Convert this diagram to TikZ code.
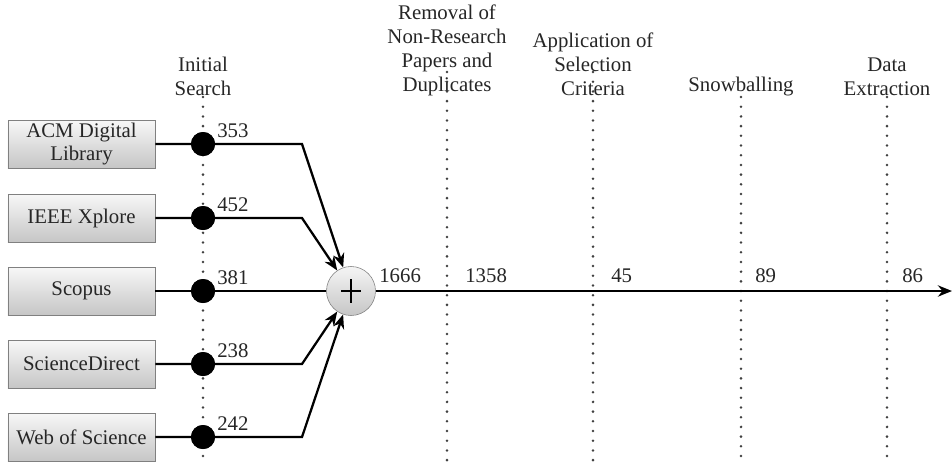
\documentclass[tikz,border=0pt]{standalone}
\usepackage{fontspec}
\setmainfont{Liberation Serif}
\usetikzlibrary{arrows.meta,positioning}
\begin{document}
\begin{tikzpicture}[x=0.025cm, y=-0.025cm,
        every node/.style={font=\rmfamily\fontsize{14.8}{17}\selectfont, text=black!85},
        source/.style={draw=gray, top color=gray!6, bottom color=gray!45, minimum width=3.675cm, minimum height=1.2cm, inner sep=0pt, align=center},
        hit/.style={circle, fill=black, minimum size=0.6cm, inner sep=0pt},
        sumnode/.style={circle, draw=gray, top color=gray!8, bottom color=gray!45, minimum size=1.225cm, inner sep=0pt},
        num/.style={anchor=base west, inner sep=0pt},
        stage/.style={anchor=south, align=center, inner sep=0pt},
        guide/.style={line width=2pt, dash pattern=on 0pt off 6.9pt, line cap=round, black!75},
        flow/.style={line width=1.6pt, -{Stealth[length=10pt,width=8pt]}}]
        \useasboundingbox (0,0) rectangle (952,462);

        % stage headers and their guide lines
        \node[stage] (initial) at (203,96) {Initial\\Search};
        \node[stage] (removal) at (447,96) {Removal of\\Non-Research\\Papers and\\Duplicates};
        \node[stage] (selection) at (593,96) {Application of\\Selection\\Criteria};
        \node[stage] (snowball) at (741,96) {Snowballing};
        \node[stage] (extract) at (887,96) {Data\\Extraction};

        \draw[guide] (203,97) -- (203,462);
        \draw[guide] (447,72) -- (447,462);
        \draw[guide] (593,72) -- (593,462);
        \draw[guide] (741,97) -- (741,462);
        \draw[guide] (887,97) -- (887,462);

        % databases
        \node[source] (acm) at (81.5,144) {ACM Digital\\Library};
        \node[source] (ieee) at (81.5,218) {IEEE Xplore};
        \node[source] (scopus) at (81.5,291) {Scopus};
        \node[source] (sd) at (81.5,364) {ScienceDirect};
        \node[source] (wos) at (81.5,437) {Web of Science};

        \node[sumnode] (sum) at (351,291) {};
        \draw[line width=1.6pt] (sum.center) ++(-10,0) -- ++(20,0);
        \draw[line width=1.6pt] (sum.center) ++(0,-12) -- ++(0,24);

        \coordinate (b1) at (302,144);
        \coordinate (b2) at (302,218);
        \coordinate (b4) at (302,364);
        \coordinate (b5) at (302,437);
        \coordinate (out) at (952,291);

        \node[hit] (h1) at (203,144) {};
        \node[hit] (h2) at (203,218) {};
        \node[hit] (h3) at (203,291) {};
        \node[hit] (h4) at (203,364) {};
        \node[hit] (h5) at (203,437) {};

        \draw[flow] (acm) -- (h1.center) -- (b1) -- (sum);
        \draw[flow] (ieee) -- (h2.center) -- (b2) -- (sum);
        \draw[line width=1.6pt] (scopus) -- (h3.center) -- (sum);
        \draw[flow] (sd) -- (h4.center) -- (b4) -- (sum);
        \draw[flow] (wos) -- (h5.center) -- (b5) -- (sum);
        \draw[flow] (sum) -- (out);

        \node[hit] at (h1) {};
        \node[hit] at (h2) {};
        \node[hit] at (h3) {};
        \node[hit] at (h4) {};
        \node[hit] at (h5) {};

        % counts
        \node[num] at (217,137) {353};
        \node[num] at (217,211) {452};
        \node[num] at (217,284) {381};
        \node[num] at (217,357) {238};
        \node[num] at (217,430) {242};

        \node[num] at (379,282) {1666};
        \node[num] at (465,282) {1358};
        \node[num] at (611,282) {45};
        \node[num] at (755,282) {89};
        \node[num] at (902,282) {86};
\end{tikzpicture}
\end{document}
